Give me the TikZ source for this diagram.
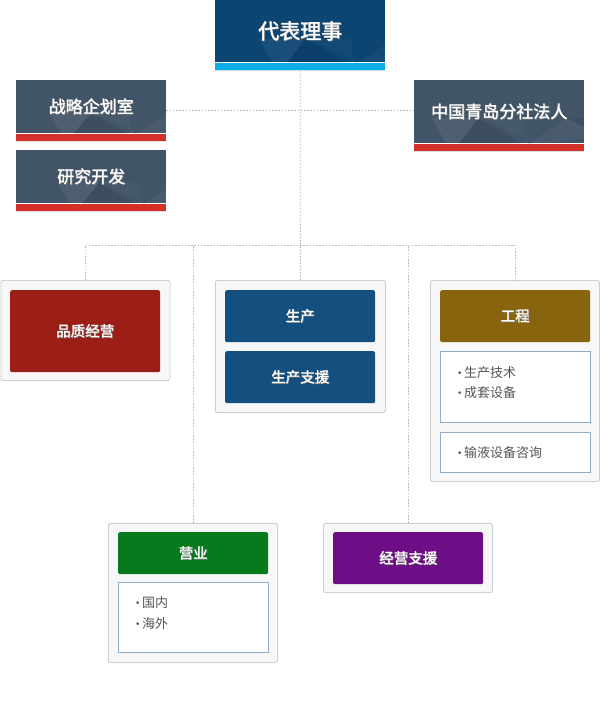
\documentclass[tikz,border=0pt]{standalone}
\usepackage{fontspec}
\newfontfamily\cjk{Noto Sans CJK SC}
\newfontfamily\cjkb[FakeBold=1.2]{Noto Sans CJK SC}
\newfontfamily\dv{DejaVu Sans}
\usetikzlibrary{shadows}
\definecolor{ceoblue}{HTML}{0C4572}
\definecolor{ceocyan}{HTML}{07AEEA}
\definecolor{slate}{HTML}{425568}
\definecolor{barred}{HTML}{D4302A}
\definecolor{qred}{HTML}{9C1F17}
\definecolor{pblue}{HTML}{134F7F}
\definecolor{ebrown}{HTML}{88640F}
\definecolor{sgreen}{HTML}{087A1E}
\definecolor{mpurple}{HTML}{6E0E86}
\definecolor{outerfill}{HTML}{F7F7F7}
\definecolor{outerline}{HTML}{C6D0DA}
\definecolor{listline}{HTML}{8DAECB}
\definecolor{itemgray}{HTML}{555555}
\definecolor{dotline}{HTML}{BBBBBB}
\newcommand\shtext[1]{\makebox[0pt][l]{\hspace{0.6pt}\raisebox{-0.7pt}{\color{black!50}#1}}#1}
\newcommand\bul[1]{{\dv\fontsize{9}{9}\selectfont\raisebox{1.2pt}{•}}\hspace{1.5pt}#1}
\newcommand\lowpolyin[2]{\begin{scope}[shift={(path picture bounding box.north west)},x=#1pt,y=-#2pt]
\fill[white,opacity=.06] (0,0) -- (.28,0) -- (.12,.55) -- cycle;
\fill[black,opacity=.08] (.28,0) -- (.55,.45) -- (.12,.55) -- cycle;
\fill[white,opacity=.04] (.55,.45) -- (.8,0) -- (1,.3) -- cycle;
\fill[black,opacity=.07] (.8,0) -- (1,0) -- (1,.3) -- cycle;
\fill[black,opacity=.09] (.45,1) -- (.58,.35) -- (.7,1) -- cycle;
\fill[white,opacity=.05] (.7,1) -- (1,.3) -- (1,1) -- cycle;
\fill[black,opacity=.06] (0,.55) -- (.12,.55) -- (0,1) -- cycle;
\fill[white,opacity=.03] (.12,.55) -- (.45,1) -- (0,1) -- cycle;
\fill[white,opacity=.03] (.55,.45) -- (.58,.35) -- (.28,0) -- (.55,0) -- cycle;
\end{scope}}
\tikzset{
 x=1pt, y=-1pt,
 conn/.style={draw=dotline, line width=0.8pt, dash pattern=on 1.6pt off 1.6pt},
 poly/.style 2 args={path picture={\lowpolyin{#1}{#2}}},
 topbox/.style={fill=ceoblue, text=white, anchor=north west, minimum width=170pt, minimum height=62pt, inner sep=0pt, font=\cjkb\fontsize{21}{24}\selectfont, poly={170}{62}},
 slatebox/.style={fill=slate, text=white, anchor=north west, minimum width=#1, inner sep=0pt, font=\cjkb\fontsize{17}{20}\selectfont},
 bar/.style={fill=#1, anchor=north, minimum height=7.5pt, inner sep=0pt, drop shadow={shadow xshift=0pt, shadow yshift=-1.2pt, opacity=0.12, fill=black}},
 outerbox/.style={draw=outerline, fill=outerfill, rounded corners=1.5pt, anchor=north west, inner sep=0pt, line width=0.8pt},
 hdr/.style={fill=#1, text=white, rounded corners=1.5pt, anchor=north west, minimum width=150pt, inner sep=0pt, font=\cjkb\fontsize{14.5}{17}\selectfont},
 listbox/.style={draw=listline, fill=white, anchor=north west, minimum width=150pt, inner sep=0pt, line width=0.8pt},
 item/.style={anchor=west, inner sep=0pt, text=itemgray, font=\cjk\fontsize{13}{15}\selectfont},
}
\begin{document}
\begin{tikzpicture}
\useasboundingbox[fill=white] (0,0) rectangle (600,707);
% top
\node[topbox] (ceo) at (215,0) {\shtext{代表理事}};
\node[bar=ceocyan, minimum width=170pt] (ceobar) at (ceo.south) {};
% left and right slate boxes
\node[slatebox=150pt, minimum height=53pt, poly={150}{53}] (sp) at (16,80) {\shtext{战略企划室}};
\node[bar=barred, minimum width=150pt] (spbar) at (sp.south) {};
\node[slatebox=150pt, minimum height=53pt, poly={150}{53}] (rd) at (16,150) {\shtext{研究开发}};
\node[bar=barred, minimum width=150pt] (rdbar) at (rd.south) {};
\node[slatebox=170pt, minimum height=63pt, poly={170}{63}] (cn) at (414,80) {\shtext{中国青岛分社法人}};
\node[bar=barred, minimum width=170pt] (cnbar) at (cn.south) {};
% row 1
\node[outerbox, minimum width=169pt, minimum height=100pt] (qmo) at (0.5,280) {};
\node[hdr=qred, minimum height=82pt] (qm) at (10,290) {\shtext{品质经营}};
\node[outerbox, minimum width=170pt, minimum height=132pt] (pro) at (215,280) {};
\node[hdr=pblue, minimum height=52pt] (pr) at (225,290) {\shtext{生产}};
\node[hdr=pblue, minimum height=52pt] (ps) at (225,351) {\shtext{生产支援}};
\node[outerbox, minimum width=169pt, minimum height=201pt] (eno) at (430,280) {};
\node[hdr=ebrown, minimum height=52pt] (en) at (440,290) {\shtext{工程}};
\node[listbox, minimum height=71pt] (enl1) at (440,351) {};
\node[listbox, minimum height=40pt] (enl2) at (440,432) {};
\node[item] (i1) at (457,373) {\bul{生产技术}};
\node[item] (i2) at (457,393) {\bul{成套设备}};
\node[item] (i3) at (457,453) {\bul{输液设备咨询}};
% row 2
\node[outerbox, minimum width=169pt, minimum height=139pt] (sao) at (108,523) {};
\node[hdr=sgreen, minimum height=42pt] (sa) at (118,532) {\shtext{营业}};
\node[listbox, minimum height=70pt] (sal) at (118,582) {};
\node[item] (i4) at (135,603) {\bul{国内}};
\node[item] (i5) at (135,624) {\bul{海外}};
\node[outerbox, minimum width=169pt, minimum height=69pt] (mso) at (323,523) {};
\node[hdr=mpurple, minimum height=52pt] (ms) at (333,532) {\shtext{经营支援}};
% connectors
\coordinate (bus) at (300,245);
\draw[conn] (ceobar.south) -- (pro.north);
\draw[conn] ([yshift=-3.5pt]sp.east) -- ([yshift=-3.5pt]sp.east -| cn.west);
\draw[conn] (qmo.north) -- (qmo.north |- bus) -- (eno.north |- bus) -- (eno.north);
\draw[conn] (sao.north) -- (sao.north |- bus);
\draw[conn] (mso.north) -- (mso.north |- bus);
\end{tikzpicture}
\end{document}
